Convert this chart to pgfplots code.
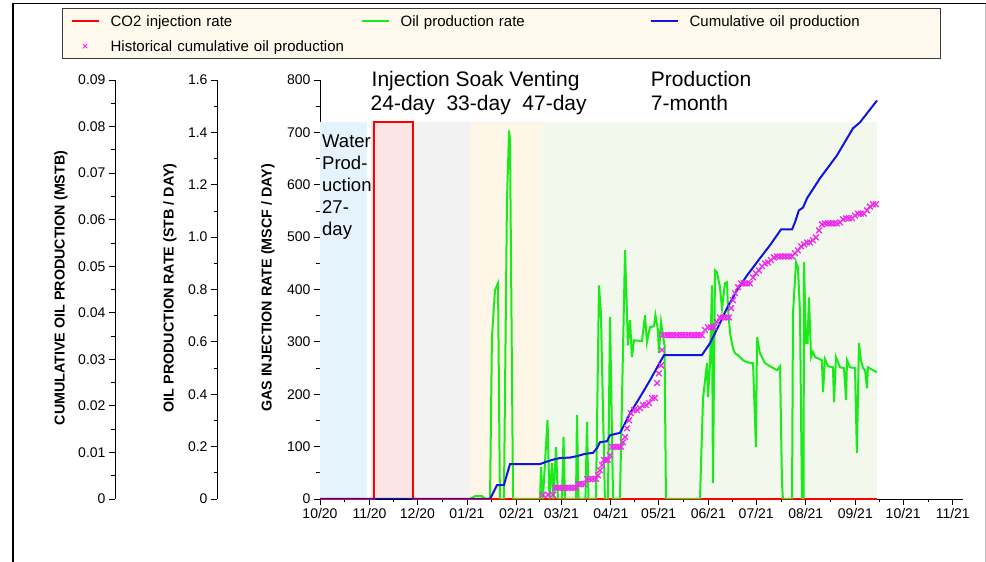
\documentclass[border=0pt]{standalone}
\usepackage{fontspec}
\setmainfont{Liberation Sans}
\usepackage{pgfplots}
\pgfplotsset{compat=1.18}

\definecolor{co2red}{RGB}{255,0,0}
\definecolor{oilgreen}{RGB}{25,235,25}
\definecolor{cumblue}{RGB}{15,20,225}
\definecolor{histmag}{RGB}{240,40,240}
\definecolor{waterbg}{RGB}{229,244,252}
\definecolor{injbg}{RGB}{253,228,229}
\definecolor{soakbg}{RGB}{242,242,242}
\definecolor{ventbg}{RGB}{253,246,231}
\definecolor{prodbg}{RGB}{242,248,236}
\definecolor{legbg}{RGB}{255,248,236}
\definecolor{legframe}{RGB}{60,60,60}

% time axis: days since 1 Oct 2020
\pgfplotsset{
  panel/.style={
    scale only axis, width=643pt, height=419pt,
    at={(320pt,63pt)}, anchor=south west,
    xmin=0, xmax=402.4,
  },
  ticks common/.style={
    tick align=outside, major tick length=6pt, minor tick length=3.5pt,
    tick style={black, line width=0.8pt},
    axis line style={-, black, line width=0.8pt},
    tick label style={font=\fontsize{14}{16}\selectfont},
    /pgf/number format/assume math mode=true,
    scaled y ticks=false,
  },
  spine/.style={
    ticks common,
    scale only axis, width=10pt, height=419pt,
    anchor=south west, xmin=0, xmax=1,
    hide x axis, axis y line*=left,
  },
  co2 style/.style={draw=co2red, color=co2red, line width=2pt},
  oil style/.style={draw=oilgreen, color=oilgreen, line width=2pt},
  cum style/.style={draw=cumblue, color=cumblue, line width=2pt},
  hist style/.style={only marks, mark=x, mark size=4pt,
    mark options={draw=histmag, color=histmag, line width=1.3pt}},
}

\begin{document}
\begin{tikzpicture}
\useasboundingbox (0pt,0pt) rectangle (986pt,562pt);

% outer frame
\draw[black, line width=1.2pt] (13pt,0pt) -- (13pt,558.5pt) -- (986pt,558.5pt);
\draw[black!25, line width=1pt] (985pt,558pt) -- (985pt,0pt);

% ---- gas injection axis with stage shading ----
\begin{axis}[panel, ticks common,
  ymin=0, ymax=800,
  axis x line*=bottom, axis y line*=left,
  xtick={0,31,61,92,123,151,182,212,243,273,304,335,365,396},
  xticklabels={10/20,11/20,12/20,01/21,02/21,03/21,04/21,05/21,06/21,07/21,08/21,09/21,10/21,11/21},
  minor xtick={15.5,46,76.5,107.5,137,166.5,197,227.5,258,288.5,319.5,350,380.5},
  ytick={0,100,...,800}, minor ytick={50,150,...,750},
  clip=false,
  legend columns=3,
  legend cell align=left,
  legend image code/.code={%
    \draw[mark repeat=2,mark phase=2,#1] plot coordinates {(0pt,0pt)(13.5pt,0pt)(27pt,0pt)};
    \path (0pt,0pt) (38pt,0pt);},
  legend style={at={(axis description cs:-0.40124,1.1718)}, anchor=north west,
    draw=legframe, fill=legbg, line width=1.2pt,
    inner xsep=8pt, inner ysep=5pt, row sep=10pt, column sep=0pt,
    font=\fontsize{15}{18}\selectfont,
    nodes={inner xsep=0pt, inner ysep=0pt, text height=13pt, text depth=2pt, align=left}},
]
\addplot[fill=waterbg, draw=none, forget plot] coordinates {(0,0)(0,720)(29.4,720)(29.4,0)} \closedcycle;
\addplot[fill=injbg, draw=none, forget plot] coordinates {(31.9,0)(31.9,720)(58.5,720)(58.5,0)} \closedcycle;
\addplot[fill=soakbg, draw=none, forget plot] coordinates {(58.5,0)(58.5,720)(93.9,720)(93.9,0)} \closedcycle;
\addplot[fill=ventbg, draw=none, forget plot] coordinates {(93.9,0)(93.9,720)(138.6,720)(138.6,0)} \closedcycle;
\addplot[fill=prodbg, draw=none, forget plot] coordinates {(138.6,0)(138.6,720)(348.6,720)(348.6,0)} \closedcycle;

\addplot[co2 style] coordinates {(0,0)(34,0)(34,720)(58.5,720)(58.5,0)(348.6,0)};
\addlegendentry[text width=250pt]{CO2 injection rate}
\addlegendimage{oil style}
\addlegendentry[text width=249pt]{Oil production rate}
\addlegendimage{cum style}
\addlegendentry[text width=243pt]{Cumulative oil production}
\addlegendimage{only marks, mark=x, mark size=3pt, mark options={draw=histmag, color=histmag, line width=1pt}}
\addlegendentry[text width=250pt]{Historical cumulative oil production}
\end{axis}

% ---- oil production rate (STB/day) ----
\begin{axis}[panel, ymin=0, ymax=1.6, hide axis]
\addplot[oil style] coordinates {
(93.9,0)(97.0,0.011)(101.4,0.011)(103.3,0)(106.4,0)(107.6,0.618)(109.5,0.797)(111.4,0.824)
(112.6,0)(115.1,0)(117.0,1.140)(118.3,1.407)(118.9,1.370)(120.8,0)(137.7,0)(138.3,0.122)
(139.5,0)(140.8,0.137)(142.4,0.301)(143.6,0)(145.2,0.137)(146.1,0)(147.7,0.198)(148.9,0)
(151.4,0)(152.4,0.236)(153.3,0)(160.2,0)(160.8,0.320)(161.8,0)(166.1,0)(167.1,0.294)
(168.0,0)(172.7,0)(174.6,0.816)(175.8,0.709)(178.3,0)(180.2,0)(181.5,0.694)(183.4,0)
(187.7,0)(190.9,0.950)(192.7,0.587)(194.0,0.683)(195.2,0.542)(196.5,0.606)(201.5,0.603)
(203.4,0.702)(204.6,0.599)(206.5,0.656)(209.0,0.660)(209.9,0.702)(211.5,0.645)(212.1,0.557)
(213.4,0.675)(214.6,0.625)(215.6,0.587)(216.5,0)(237.8,0)(239.7,0.385)(242.2,0.519)
(242.8,0.389)(244.1,0.519)(245.3,0.816)(245.9,0.061)(247.2,0.873)(248.4,0.866)(250.3,0.809)
(251.6,0.728)(253.4,0.824)(254.7,0.828)(255.3,0.732)(256.6,0.633)(258.4,0.576)(259.7,0.557)
(261.6,0.549)(264.7,0.530)(267.2,0.522)(271.0,0.519)(272.8,0.198)(273.5,0.618)(275.3,0.557)
(278.5,0.519)(281.6,0.507)(286.0,0.492)(287.9,0.507)(289.1,0.061)(289.7,0)(295.4,0)
(296.0,0.709)(297.9,0.904)(299.1,0.885)(300.4,0.709)(301.6,0)(302.6,0)(302.9,0.904)
(304.1,0.595)(305.1,0.595)(306.0,0.770)(307.3,0.542)(308.5,0.561)(309.8,0.542)(314.1,0.530)
(314.8,0.408)(316.0,0.534)(317.9,0.507)(321.0,0.503)(321.7,0.370)(322.9,0.542)(325.4,0.503)
(327.9,0.500)(329.2,0.378)(329.8,0.530)(331.7,0.503)(334.8,0.500)(336.0,0.175)(337.3,0.595)
(338.5,0.530)(339.8,0.500)(341.1,0.492)(342.3,0.423)(342.9,0.503)(346.1,0.492)(348.6,0.484)};
\end{axis}

% ---- cumulative oil production (MSTB) ----
\begin{axis}[panel, ymin=0, ymax=0.09, hide axis]
\addplot[cum style] coordinates {
(0,0)(106.4,0)(110.8,0.0030)(115.1,0.0030)(118.9,0.0075)(137.7,0.0075)(140.8,0.0079)
(145.2,0.0084)(150.2,0.0088)(156.4,0.0089)(160.8,0.0092)(165.8,0.0097)(170.8,0.0099)
(173.3,0.0109)(175.2,0.0122)(179.6,0.0124)(181.5,0.0137)(187.7,0.0142)(189.6,0.0154)
(194.0,0.0184)(200.3,0.0219)(206.5,0.0255)(212.8,0.0294)(215.3,0.0309)(239.0,0.0309)
(244.1,0.0335)(247.2,0.0356)(250.3,0.0378)(254.7,0.0410)(260.9,0.0448)(267.2,0.0480)
(275.3,0.0517)(281.6,0.0545)(288.5,0.0579)(295.4,0.0579)(297.2,0.0594)(299.7,0.0620)
(302.3,0.0626)(304.8,0.0646)(312.9,0.0689)(323.5,0.0738)(333.5,0.0796)(337.9,0.0809)
(348.6,0.0856)};
\addplot[hist style] coordinates {
(139.5,0.0009)(142.7,0.0009)(145.8,0.0009)(147.1,0.0024)(148.9,0.0024)(150.8,0.0024)
(152.7,0.0024)(154.6,0.0024)(156.4,0.0024)(158.3,0.0024)(160.2,0.0024)(161.5,0.0032)
(163.3,0.0032)(165.2,0.0032)(167.1,0.0043)(169.0,0.0043)(170.8,0.0043)(172.7,0.0043)
(174.0,0.0051)(175.2,0.0062)(176.5,0.0073)(177.7,0.0084)(179.0,0.0084)(180.2,0.0084)
(181.5,0.0094)(182.7,0.0112)(184.6,0.0112)(186.5,0.0112)(188.4,0.0112)(189.6,0.0122)
(190.9,0.0133)(192.1,0.0152)(193.4,0.0169)(194.6,0.0184)(196.5,0.0191)(198.4,0.0191)
(200.3,0.0195)(202.1,0.0202)(204.0,0.0202)(205.9,0.0206)(207.8,0.0217)(209.6,0.0217)
(210.9,0.0249)(212.1,0.0270)(213.4,0.0287)(214.0,0.0320)(214.6,0.0352)(216.5,0.0352)
(218.4,0.0352)(220.3,0.0352)(222.2,0.0352)(224.0,0.0352)(225.9,0.0352)(227.8,0.0352)
(229.7,0.0352)(231.5,0.0352)(233.4,0.0352)(235.3,0.0352)(237.2,0.0352)(239.0,0.0352)
(240.9,0.0363)(242.8,0.0369)(244.7,0.0369)(246.6,0.0369)(248.4,0.0380)(250.3,0.0390)
(252.2,0.0390)(254.1,0.0390)(255.9,0.0390)(257.2,0.0410)(258.4,0.0427)(259.7,0.0442)
(261.6,0.0455)(263.5,0.0463)(265.3,0.0463)(267.2,0.0463)(269.1,0.0463)(271.0,0.0476)
(272.8,0.0485)(274.7,0.0491)(276.6,0.0500)(278.5,0.0506)(280.4,0.0508)(282.2,0.0513)
(284.1,0.0519)(286.0,0.0521)(287.9,0.0521)(289.7,0.0521)(291.6,0.0521)(293.5,0.0521)
(295.4,0.0521)(297.2,0.0528)(299.1,0.0534)(301.0,0.0543)(302.9,0.0547)(304.8,0.0551)
(306.6,0.0551)(308.5,0.0556)(310.4,0.0562)(312.3,0.0577)(314.1,0.0590)(316.0,0.0592)
(317.9,0.0592)(319.8,0.0592)(321.7,0.0592)(323.5,0.0592)(325.4,0.0594)(327.3,0.0601)
(329.2,0.0603)(331.0,0.0603)(332.9,0.0603)(334.8,0.0609)(336.7,0.0613)(338.5,0.0613)
(340.4,0.0613)(342.3,0.0620)(344.2,0.0628)(346.1,0.0633)(347.9,0.0633)};
\end{axis}

% ---- left spines ----
\begin{axis}[spine, at={(115pt,63pt)}, ymin=0, ymax=0.09,
  ytick={0,0.01,0.02,0.03,0.04,0.05,0.06,0.07,0.08,0.09},
  yticklabels={0,0.01,0.02,0.03,0.04,0.05,0.06,0.07,0.08,0.09},
  minor ytick={0.005,0.015,0.025,0.035,0.045,0.055,0.065,0.075,0.085}]
\end{axis}
\begin{axis}[spine, at={(217pt,63pt)}, ymin=0, ymax=1.6,
  ytick={0,0.2,0.4,0.6,0.8,1.0,1.2,1.4,1.6},
  yticklabels={0,0.2,0.4,0.6,0.8,1.0,1.2,1.4,1.6},
  minor ytick={0.1,0.3,0.5,0.7,0.9,1.1,1.3,1.5}]
\end{axis}

% axis titles
\begin{scope}[every node/.style={rotate=90, inner sep=0pt, font=\bfseries\fontsize{14.3}{16}\selectfont}]
\node at (61pt,274pt) {CUMULATIVE OIL PRODUCTION (MSTB)};
\node at (170pt,274pt) {OIL PRODUCTION RATE (STB / DAY)};
\node at (268pt,274pt) {GAS INJECTION RATE (MSCF / DAY)};
\end{scope}

% stage annotations
\begin{scope}[every node/.style={anchor=base west, inner sep=0pt, font=\fontsize{21}{24}\selectfont}]
\node at (371.5pt,475pt) {Injection Soak Venting};
\node at (370.5pt,451pt) {24-day\hspace{0.556em}33-day\hspace{0.556em}47-day};
\node at (650.7pt,475pt) {Production};
\node at (650.7pt,451pt) {7-month};
\end{scope}
\begin{scope}[every node/.style={anchor=base west, inner sep=0pt, font=\fontsize{18.5}{22}\selectfont}]
\node at (322pt,414.7pt) {Water};
\node at (322pt,392.7pt) {Prod-};
\node at (322pt,370.7pt) {uction};
\node at (322pt,348.7pt) {27-};
\node at (322pt,326.7pt) {day};
\end{scope}
\end{tikzpicture}
\end{document}
